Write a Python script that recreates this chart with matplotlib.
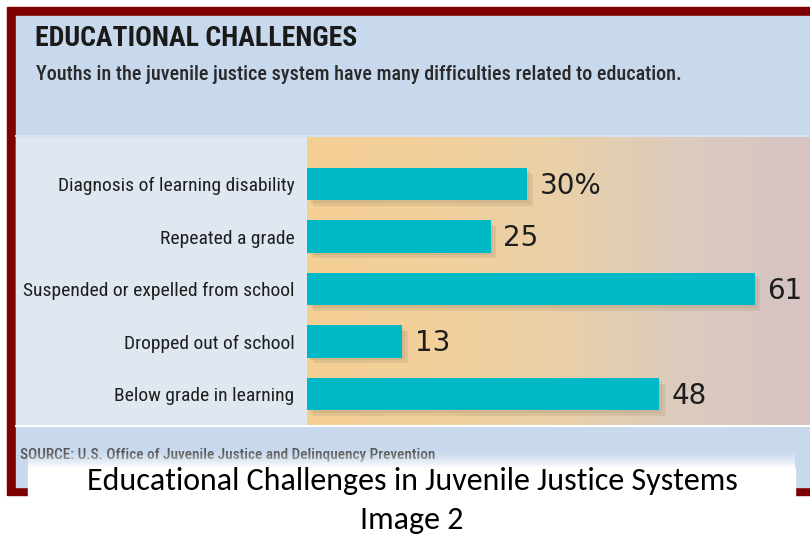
import numpy as np
import matplotlib.pyplot as plt
import matplotlib.patheffects as pe
from matplotlib.colors import LinearSegmentedColormap

# data
categories = ["Diagnosis of learning disability", "Repeated a grade",
              "Suspended or expelled from school", "Dropped out of school",
              "Below grade in learning"]
values = [30, 25, 61, 13, 48]
value_labels = ["30%", "25", "61", "13", "48"]

W, H = 810, 547
fig = plt.figure(figsize=(W / 100, H / 100), dpi=100)
fig.patch.set_facecolor("white")

# background axes in pixel coordinates
bg = fig.add_axes([0, 0, 1, 1])
bg.set_xlim(0, W)
bg.set_ylim(H, 0)
bg.axis("off")

red = "#7f0000"
cond = "Roboto Condensed"
# frame
bg.add_patch(plt.Rectangle((7, 7), W - 7, 488, color=red, zorder=0))
bg.add_patch(plt.Rectangle((16, 16), W - 16, 471, color="#c9d9ed", zorder=1))
# label panel
bg.add_patch(plt.Rectangle((16, 137), 291, 288, color="#dfe7f1", zorder=1))
bg.plot([16, W], [426, 426], color="white", lw=1.5, zorder=2)
bg.plot([16, W], [136, 136], color="#d6e2f0", lw=1.5, zorder=2)

# orange gradient behind the bars
grad_cmap = LinearSegmentedColormap.from_list(
    "g", ["#f4cf94", "#f3d19c", "#e9d0a8", "#dccbbe", "#d6c3c3"])
grad = np.linspace(0, 1, 256).reshape(1, -1)
bg.imshow(grad, cmap=grad_cmap, extent=[307, W, 425, 137], aspect="auto", zorder=1.5)

# titles
bg.text(35, 39, "EDUCATIONAL CHALLENGES", fontsize=20, fontweight="bold",
        family=cond, color="#1a1a1a", va="center", ha="left", zorder=3)
bg.text(36, 75, "Youths in the juvenile justice system have many difficulties related to education.",
        fontsize=14.5, fontweight="medium", family=cond, color="#2a2a2a",
        va="center", ha="left", zorder=3)
bg.text(20, 455, "SOURCE: U.S. Office of Juvenile Justice and Delinquency Prevention",
        fontsize=11, fontweight="medium", family=cond, color="#555555",
        va="center", ha="left", zorder=3)

# white caption box with fade at top
fade = np.linspace(0, 1, 64).reshape(-1, 1) ** 1.5
rgba = np.ones((64, 1, 4))
rgba[..., 3] = fade
bg.imshow(rgba, extent=[28, 795, 468, 450], aspect="auto", zorder=4)
bg.add_patch(plt.Rectangle((28, 468), 767, 79, color="white", zorder=4))
bg.text(412, 481, "Educational Challenges in Juvenile Justice Systems", fontsize=23,
        family="Carlito", color="black", ha="center", va="center", zorder=5)
bg.text(412, 520, "Image 2", fontsize=23, family="Carlito", color="black",
        ha="center", va="center", zorder=5)

# bar axes
ax = fig.add_axes([307 / W, 1 - 425 / H, (W - 307) / W, (425 - 137) / H])
ax.set_facecolor("none")
y = np.arange(len(categories))
bars = ax.barh(y, values, height=0.61, color="#00b9c6", zorder=3)
for b in bars:
    b.set_path_effects([pe.SimplePatchShadow(offset=(4, -4), shadow_rgbFace="#a08d6c", alpha=0.22),
                        pe.SimplePatchShadow(offset=(2, -2), shadow_rgbFace="#a08d6c", alpha=0.18),
                        pe.Normal()])
ax.set_xlim(0, (W - 307) / 7.34)
ax.set_ylim(len(categories) - 1 + 0.59, -0.895)
for yi, v, lab in zip(y, values, value_labels):
    ax.text(v + 1.7, yi + 0.03, lab, fontsize=20, color="#1e1e1e", va="center", ha="left",
            family="DejaVu Sans")
ax.set_yticks(y)
ax.set_yticklabels(categories, fontsize=14, family=cond, color="#1e1e1e")
ax.tick_params(axis="y", length=0, pad=9)
ax.set_xticks([])
for s in ax.spines.values():
    s.set_visible(False)

fig.savefig("out.png", dpi=100)
